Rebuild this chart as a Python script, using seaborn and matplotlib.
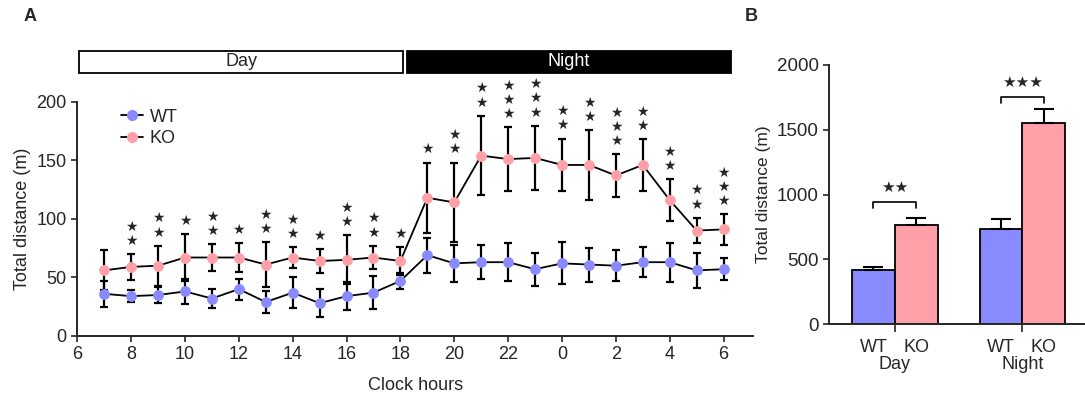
import matplotlib.pyplot as plt
import matplotlib.transforms as mtransforms
from matplotlib.lines import Line2D
from matplotlib.patches import Rectangle
import numpy as np
import pandas as pd
import seaborn as sns

# ---- data, panel A (hourly totals, 07:00 -> 06:00 next day) ----
hours = list(range(7, 31))
hour_ticks = list(range(6, 31, 2))
hour_tick_labels = ["6", "8", "10", "12", "14", "16", "18", "20", "22", "0", "2", "4", "6"]

wt_mean = [36, 34, 35, 38, 32, 40, 29, 37, 28, 34, 37, 47,
           69, 62, 63, 63, 57, 62, 61, 60, 63, 63, 56, 57]
wt_sem = [11, 5, 7, 11, 8, 9, 9, 13, 12, 12, 14, 6.5,
          15, 16, 14.5, 16, 14, 18, 14.5, 13, 13, 16.5, 15, 9.5]
ko_mean = [56, 59, 60, 67, 67, 67, 61, 67, 64, 65, 67, 64,
           118, 114, 154, 151, 152, 146, 146, 137, 146, 116, 90, 91]
ko_sem = [17, 11, 17, 20, 11.5, 12.5, 19, 9, 10, 21, 10, 12,
          30, 34, 34, 27, 27.5, 22.5, 30, 18, 22, 18, 11, 13]
n_stars = [0, 2, 2, 1, 2, 1, 2, 2, 1, 2, 2, 1,
           1, 2, 2, 3, 3, 2, 2, 3, 2, 2, 2, 3]

# ---- data, panel B (totals per period) ----
periods = ["Day", "Night"]
genotypes = ["WT", "KO"]
wt_total = [420, 735]
wt_total_sem = [25, 80]
ko_total = [765, 1555]
ko_total_sem = [55, 105]
b_sig = ["★★", "★★★"]
b_bracket_y = [945, 1755]

WT_COLOR = "#8a8aff"
KO_COLOR = "#ffa0a8"

sns.set_style("ticks")
plt.rcParams["font.family"] = ["Liberation Sans", "DejaVu Sans"]

fig = plt.figure(figsize=(10.85, 3.98), dpi=100)

# =============== panel A ===============
ax = fig.add_axes([0.0712, 0.1558, 0.623, 0.5887])

for mean, sem, col, name in [(wt_mean, wt_sem, WT_COLOR, "WT"), (ko_mean, ko_sem, KO_COLOR, "KO")]:
    ax.errorbar(hours, mean, yerr=sem, fmt="none", ecolor="black",
                elinewidth=1.6, capsize=3.2, capthick=1.6, zorder=2)
    sns.lineplot(x=hours, y=mean, ax=ax, color="black", linewidth=1.3,
                 marker="o", markersize=7, markerfacecolor=col,
                 markeredgecolor=col, zorder=3)

# significance stars over KO
ko_top = np.array(ko_mean) + np.array(ko_sem)
for h, top, n in zip(hours, ko_top, n_stars):
    for i in range(n):
        ax.annotate("★", xy=(h, top), xytext=(0, 9.5 + i * 10.2),
                    textcoords="offset points", ha="center", va="center",
                    fontsize=10, family="DejaVu Sans", annotation_clip=False)

ax.set_xlim(6, 31.1)
ax.set_ylim(0, 200)
ax.set_xticks(hour_ticks)
ax.set_xticklabels(hour_tick_labels)
ax.set_yticks([0, 50, 100, 150, 200])
ax.tick_params(axis="both", labelsize=13, length=4, width=1.2, direction="out")
ax.set_xlabel("Clock hours", fontsize=13, labelpad=10)
ax.set_ylabel("Total distance (m)", fontsize=13, labelpad=4)
for s in ["left", "bottom"]:
    ax.spines[s].set_linewidth(1.4)
sns.despine(ax=ax)

# day / night bar on top
trans = mtransforms.blended_transform_factory(ax.transData, ax.transAxes)
ax.add_patch(Rectangle((6.07, 1.121), 12.02, 0.097, transform=trans,
                       facecolor="white", edgecolor="black", linewidth=1.3, clip_on=False))
ax.add_patch(Rectangle((18.23, 1.121), 12.04, 0.097, transform=trans,
                       facecolor="black", edgecolor="black", linewidth=1.3, clip_on=False))
ax.text(12.1, 1.17, "Day", transform=trans, ha="center", va="center", fontsize=13)
ax.text(24.25, 1.17, "Night", transform=trans, ha="center", va="center",
        fontsize=13, color="white")

handles = [Line2D([], [], color="black", linewidth=1.3, marker="o", markersize=7,
                  markerfacecolor=c, markeredgecolor=c) for c in (WT_COLOR, KO_COLOR)]
ax.legend(handles, genotypes, loc="upper left", bbox_to_anchor=(0.04, 1.04),
          frameon=False, fontsize=13, handlelength=1.25, handletextpad=0.35,
          labelspacing=0.25)

fig.text(0.028, 0.958, "A", fontsize=13, fontweight="bold", ha="center", va="center")

# =============== panel B ===============
bx = fig.add_axes([0.7643, 0.1852, 0.2357, 0.6515])
df_b = pd.DataFrame({
    "period": periods * 2,
    "genotype": ["WT"] * 2 + ["KO"] * 2,
    "total": wt_total + ko_total,
})
sns.barplot(data=df_b, x="period", y="total", hue="genotype", order=periods,
            hue_order=genotypes, palette={"WT": WT_COLOR, "KO": KO_COLOR},
            width=0.67, edgecolor="black", linewidth=1.3, errorbar=None,
            saturation=1, ax=bx, legend=False)

centers = []
for cont, sem in zip(bx.containers, [wt_total_sem, ko_total_sem]):
    xs = [p.get_x() + p.get_width() / 2 for p in cont]
    ys = [p.get_height() for p in cont]
    centers.append(xs)
    bx.errorbar(xs, ys, yerr=[[0] * len(sem), sem], fmt="none", ecolor="black",
                elinewidth=1.5, capsize=7, capthick=1.5, zorder=1)

# brackets with stars
for i, (sig, by) in enumerate(zip(b_sig, b_bracket_y)):
    x0, x1 = centers[0][i], centers[1][i]
    bx.plot([x0, x0, x1, x1], [by - 45, by, by, by - 45], color="black", linewidth=1.2)
    bx.annotate(sig, xy=((x0 + x1) / 2, by), xytext=(0, 10), textcoords="offset points",
                ha="center", va="center", fontsize=11, family="DejaVu Sans")

# WT / KO labels under each bar
for xs, g in zip(centers, genotypes):
    for x in xs:
        bx.annotate(g, xy=(x, 0), xycoords=("data", "axes fraction"), xytext=(0, -17),
                    textcoords="offset points", ha="center", va="center", fontsize=13)

bx.set_xlim(-0.514, 1.49)
bx.set_ylim(0, 2000)
bx.set_yticks([0, 500, 1000, 1500, 2000])
bx.set_xlabel("")
bx.set_ylabel("Total distance (m)", fontsize=12.5, labelpad=4)
bx.tick_params(axis="y", labelsize=13.5, length=4, width=1.2)
bx.tick_params(axis="x", labelsize=13, length=6, width=1.2, pad=17)
for s in ["left", "bottom"]:
    bx.spines[s].set_linewidth(1.4)
sns.despine(ax=bx)

fig.text(0.692, 0.958, "B", fontsize=13, fontweight="bold", ha="center", va="center")

fig.savefig("out.png", dpi=100)
